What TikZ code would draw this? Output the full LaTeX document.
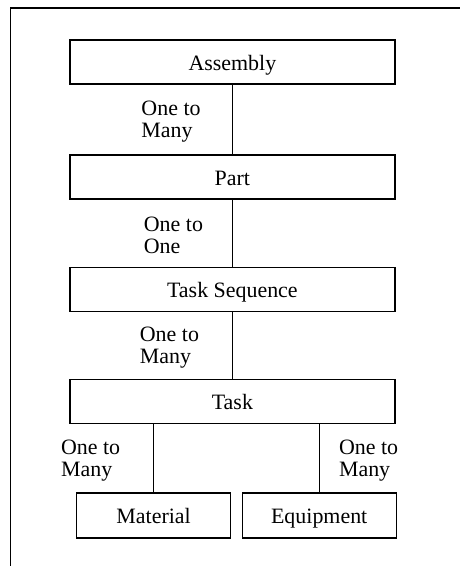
\documentclass[tikz,border=0pt]{standalone}
\usepackage{fontspec}
\setmainfont{Liberation Serif}
\usetikzlibrary{calc, positioning}

\begin{document}
\begin{tikzpicture}[
  ent/.style={draw, line width=0.9pt, minimum width=8.125cm, minimum height=1.1cm,
              inner sep=0pt, text height=11.6pt, text depth=0pt,
              font=\rmfamily\fontsize{15.6}{17}\selectfont},
  sent/.style={ent, minimum width=3.85cm, minimum height=1.125cm},
  rel/.style={line width=0.9pt},
  card/.style={align=left, inner sep=0pt, font=\rmfamily\fontsize{15.6}{15.5}\selectfont},
]
  \useasboundingbox (0,0) rectangle (11.5,-14.15);

  %% ── Frame (top and left edge) ──
  \draw[line width=0.8pt] (11.5,-0.2) -- (0.26,-0.2) -- (0.26,-14.15);

  %% ── Entity chain ──
  \node[ent] (assembly) at (5.81, -1.55)  {Assembly};
  \node[ent] (part)     at (5.81, -4.425) {Part};
  \node[ent] (taskseq)  at (5.81, -7.24)  {Task Sequence};
  \node[ent] (task)     at (5.81, -10.04) {Task};

  %% Resources below Task
  \node[sent] (material)  at (3.84, -12.89) {Material};
  \node[sent] (equipment) at (7.98, -12.89) {Equipment};

  %% ═══ Relations ═══
  \draw[rel] (assembly) -- (part)
    node[card, midway, anchor=east, xshift=-0.78cm, yshift=-0.05cm] {One to\\Many};
  \draw[rel] (part) -- (taskseq)
    node[card, midway, anchor=east, xshift=-0.72cm, yshift=-0.05cm] {One to\\One};
  \draw[rel] (taskseq) -- (task)
    node[card, midway, anchor=east, xshift=-0.82cm, yshift=-0.05cm] {One to\\Many};

  %% Task fans out to material and equipment
  \draw[rel] (task.south -| material) -- (material)
    node[card, midway, anchor=east, xshift=-0.82cm, yshift=-0.05cm] {One to\\Many};
  \draw[rel] (task.south -| equipment) -- (equipment)
    node[card, midway, anchor=west, xshift=0.48cm, yshift=-0.05cm] {One to\\Many};
\end{tikzpicture}
\end{document}
